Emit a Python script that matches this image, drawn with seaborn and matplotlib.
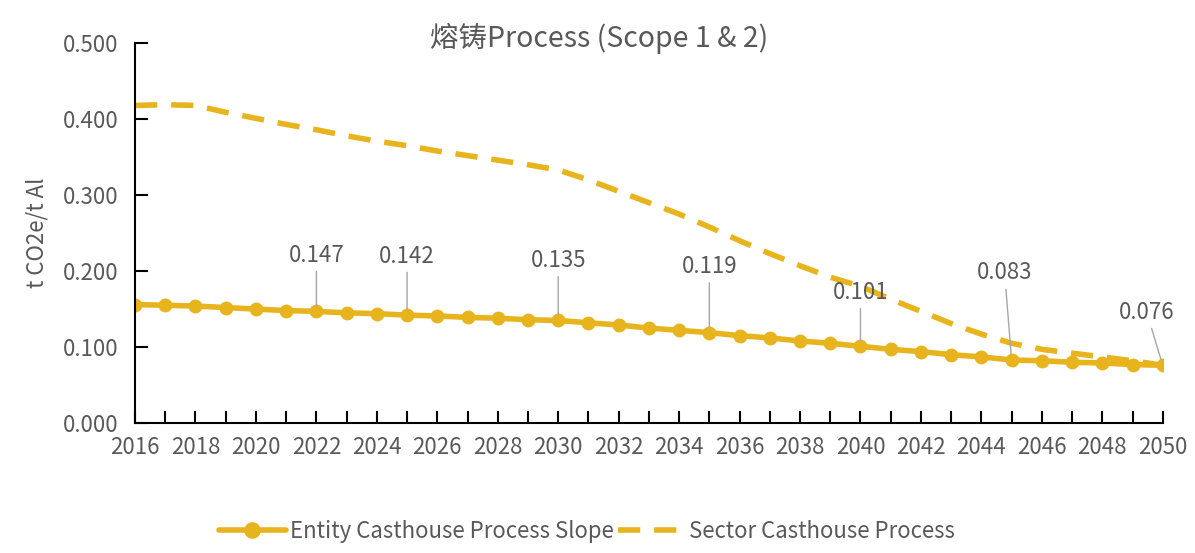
import matplotlib
matplotlib.use('Agg')
import matplotlib.pyplot as plt
import numpy as np
import pandas as pd
import seaborn as sns

YEARS = list(range(2016, 2051))

ENTITY = [0.156, 0.155, 0.154, 0.152, 0.150, 0.148, 0.147, 0.145, 0.144, 0.142,
          0.141, 0.139, 0.138, 0.136, 0.135, 0.132, 0.129, 0.125, 0.122, 0.119,
          0.115, 0.112, 0.108, 0.105, 0.101, 0.097, 0.094, 0.090, 0.087, 0.083,
          0.082, 0.080, 0.079, 0.077, 0.076]

SECTOR = [0.418, 0.419, 0.418, 0.409, 0.401, 0.393, 0.386, 0.378, 0.371, 0.365,
          0.358, 0.352, 0.346, 0.340, 0.333, 0.320, 0.305, 0.290, 0.275, 0.258,
          0.240, 0.223, 0.207, 0.192, 0.180, 0.163, 0.147, 0.131, 0.117, 0.105,
          0.097, 0.092, 0.087, 0.082, 0.076]

LABEL_YEARS = [2022, 2025, 2030, 2035, 2040, 2045, 2050]
LABEL_TEXT = ['0.147', '0.142', '0.135', '0.119', '0.101', '0.083', '0.076']
# label offsets in pixels (dx, dy) to the label centre
LABEL_OFFSETS = [(0, 56), (0, 59), (0, 60), (0, 66), (0, 54), (-7, 87), (-16, 53)]

GOLD = '#E8B41E'
GREY = '#595959'
FS = 16

sns.set_style('white')
plt.rcParams['font.family'] = ['Noto Sans CJK SC', 'DejaVu Sans']

df = pd.DataFrame({'year': YEARS, 'entity': ENTITY, 'sector': SECTOR})

fig = plt.figure(figsize=(11.95, 5.53), dpi=100)
ax = fig.add_axes([0.113, 0.235, 0.860, 0.687])

sns.lineplot(data=df, x='year', y='entity', ax=ax, color=GOLD, linewidth=4,
             marker='o', markersize=10, markeredgewidth=0,
             label='Entity Casthouse Process Slope')
sns.lineplot(data=df, x='year', y='sector', ax=ax, color=GOLD, linewidth=4,
             linestyle=(0, (4, 2.5)), label='Sector Casthouse Process')

for yr, txt, (dx, dy) in zip(LABEL_YEARS, LABEL_TEXT, LABEL_OFFSETS):
    val = ENTITY[YEARS.index(yr)]
    ax.annotate(txt, xy=(yr, val), xytext=(dx, dy), textcoords='offset pixels',
                ha='center', va='center', fontsize=FS, color=GREY,
                arrowprops=dict(arrowstyle='-', color='#A6A6A6', lw=1,
                                shrinkA=1, shrinkB=4))

ax.set_xlim(2016, 2050)
ax.set_ylim(0, 0.5)
ax.set_xticks(YEARS, minor=True)
ax.set_xticks(list(range(2016, 2051, 2)))
ax.set_yticks(np.arange(0, 0.51, 0.1))
ax.yaxis.set_major_formatter(matplotlib.ticker.FormatStrFormatter('%.3f'))
ax.tick_params(axis='x', which='both', bottom=True, direction='in', length=9,
               width=1.5, colors='black', labelcolor=GREY, labelsize=FS, pad=9)
ax.tick_params(axis='y', left=True, direction='in', length=9, width=1.5,
               colors='black', labelcolor=GREY, labelsize=FS, pad=12)

for side in ['top', 'right']:
    ax.spines[side].set_visible(False)
for side in ['left', 'bottom']:
    ax.spines[side].set_color('black')
    ax.spines[side].set_linewidth(1.5)

ax.set_xlabel('')
ax.set_ylabel('t CO2e/t Al', fontsize=16, color=GREY, labelpad=10)
fig.text(0.501, 0.931, '熔铸Process (Scope 1 & 2)', fontsize=20.5, color=GREY,
         ha='center', va='center')

ax.legend(loc='center', bbox_to_anchor=(0.44, -0.285), ncol=2,
          frameon=False, fontsize=FS, labelcolor=GREY, handlelength=3.0,
          columnspacing=0.2, handletextpad=0.2, markerscale=1.2)

fig.savefig('out.png', dpi=100, facecolor='white')
